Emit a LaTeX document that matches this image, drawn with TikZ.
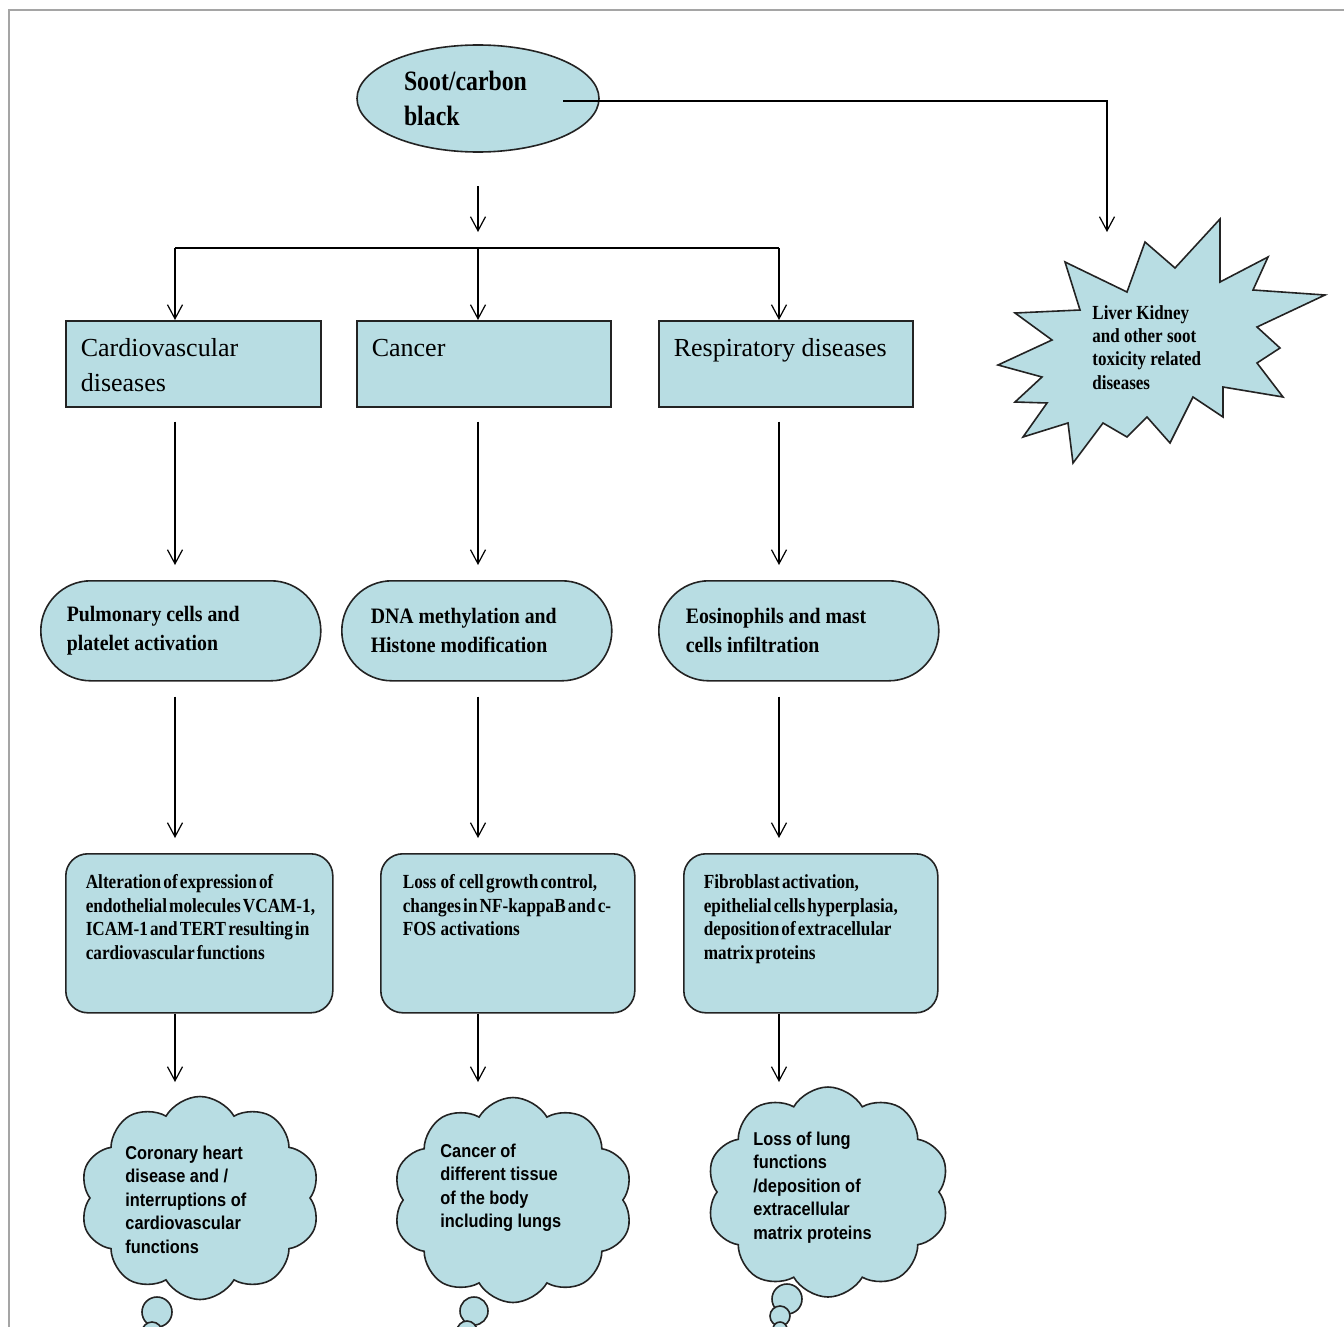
\documentclass[tikz,border=0pt]{standalone}
\usepackage{fontspec}
\setmainfont{Liberation Serif}
\newfontfamily\tnrc[FakeStretch=0.85]{Liberation Serif}
\newfontfamily\tnrb[FakeStretch=0.86,WordSpace=0.5]{Liberation Serif}
\newfontfamily\tnrs[FakeStretch=0.9]{Liberation Serif}
\newfontfamily\arialc[FakeStretch=0.88]{Liberation Sans}
\usetikzlibrary{arrows.meta,shapes.geometric,shapes.symbols,calc}
\definecolor{fillblue}{RGB}{184,221,227}
\definecolor{edgecol}{RGB}{35,35,35}
\definecolor{bordercol}{RGB}{165,165,165}
\newcommand\tbx[4]{\parbox[c][#1][t]{#2}{\raggedright\rule{0pt}{#3}#4}}
\newcommand\sootfont{\tnrc\bfseries\fontsize{14pt}{17.5pt}\selectfont}
\newcommand\rectfont{\fontsize{13pt}{17.5pt}\selectfont}
\newcommand\stadfont{\tnrs\bfseries\fontsize{11pt}{14.5pt}\selectfont}
\newcommand\lowfont{\tnrb\bfseries\fontsize{10pt}{11.75pt}\selectfont}
\newcommand\starfont{\tnrc\bfseries\fontsize{10pt}{11.7pt}\selectfont}
\newcommand\cloudfont{\arialc\bfseries\fontsize{9.3pt}{11.75pt}\selectfont}
\begin{document}
\begin{tikzpicture}[x=0.5pt,y=-0.5pt,
  shapebox/.style={draw=edgecol, fill=fillblue, line width=0.8pt, inner sep=0pt},
  rectbox/.style={shapebox, rectangle, anchor=north west},
  stadbox/.style={shapebox, rectangle, rounded corners=25pt, anchor=north west},
  rndbox/.style={shapebox, rectangle, rounded corners=11pt, anchor=north west},
  ellip/.style={shapebox, ellipse},
  cloudsty/.style={shapebox, cloud, cloud puffs=10, cloud puff arc=120, cloud ignores aspect},
  bubble/.style={shapebox, circle},
  freetext/.style={inner sep=0pt, anchor=base west},
  conn/.style={draw=black, line width=0.6pt},
  arr/.style={conn, -{Straight Barb[length=7pt,width=7.5pt,line width=0.6pt]}},
  borderline/.style={draw=bordercol, line width=1pt}
]
\useasboundingbox (0,0) rectangle (1344,1327);
\draw[borderline] (1344,10) -- (9,10) -- (9,1327);

% column coordinates
\coordinate (c1) at (175,0);
\coordinate (c2) at (478,0);
\coordinate (c3) at (779,0);

% top ellipse
\node[ellip, minimum width=121pt, minimum height=53.5pt] (soot) at (478,98.5)
  {\parbox{74pt}{\sootfont Soot/carbon\\black}};

% star (liver/kidney)
\filldraw[draw=edgecol, fill=fillblue, line width=0.8pt, line join=miter]
  (1220,219) -- (1220,282) -- (1268,257) -- (1253,290) -- (1325,295) --
  (1257,327) -- (1280,348) -- (1257,363) -- (1283,397) -- (1223,387) --
  (1223,417) -- (1193,397) -- (1170,443) -- (1147,417) -- (1127,437) --
  (1103,423) -- (1073,463) -- (1068,423) -- (1023,437) -- (1047,403) --
  (1015,402) -- (1042,377) -- (998,365) -- (1052,340) -- (1015,313) --
  (1080,310) -- (1065,262) -- (1127,292) -- (1145,242) -- (1175,268) -- cycle;
\node[freetext] (startext) at (1092,319)
  {\parbox[t]{70pt}{\starfont Liver  Kidney\\and other  soot\\toxicity related\\diseases}};

% row 1: rectangles
\node[rectbox, minimum width=127.5pt, minimum height=43pt] (cardio) at (65,320)
  {\tbx{43pt}{112.5pt}{18pt}{\rectfont Cardiovascular\\diseases}};
\node[rectbox, minimum width=127pt, minimum height=43pt] (cancer) at (356,320)
  {\tbx{43pt}{112pt}{18pt}{\rectfont Cancer}};
\node[rectbox, minimum width=127pt, minimum height=43pt] (resp) at (658,320)
  {\tbx{43pt}{112pt}{18pt}{\rectfont Respiratory diseases}};

% row 2: stadiums
\node[stadbox, minimum width=140pt, minimum height=50pt] (pulm) at (40,580)
  {\parbox{114pt}{\stadfont \mbox{Pulmonary cells and}\\\mbox{platelet activation}}};
\node[stadbox, minimum width=135pt, minimum height=50pt] (dna) at (341,580)
  {\parbox{106pt}{\stadfont \mbox{DNA methylation and}\\\mbox{Histone modification}}};
\node[stadbox, minimum width=140pt, minimum height=50pt] (eos) at (658,580)
  {\parbox{113pt}{\stadfont \mbox{Eosinophils and mast}\\\mbox{cells infiltration}}};

% row 3: rounded boxes
\node[rndbox, minimum width=133.5pt, minimum height=79.5pt] (alter) at (65,853)
  {\tbx{79.5pt}{113.5pt}{17.5pt}{\lowfont \mbox{Alteration of expression of}\\\mbox{endothelial molecules VCAM-1,}\\\mbox{ICAM-1 and TERT resulting in}\\\mbox{cardiovascular functions}}};
\node[rndbox, minimum width=127pt, minimum height=79.5pt] (loss) at (380,853)
  {\tbx{79.5pt}{105pt}{17.5pt}{\lowfont \mbox{Loss \ of \ cell growth control,}\\\mbox{changes in NF-kappaB and c-}\\\mbox{FOS\ \ activations}}};
\node[rndbox, minimum width=127pt, minimum height=79.5pt] (fibro) at (683,853)
  {\tbx{79.5pt}{107pt}{17.5pt}{\lowfont \mbox{Fibroblast activation,}\\\mbox{epithelial cells hyperplasia,}\\\mbox{deposition of extracellular}\\\mbox{matrix proteins}}};

% row 4: clouds
\node[cloudsty, minimum width=120pt, minimum height=101.5pt] (cl1) at (200,1198) {};
\node[cloudsty, minimum width=120pt, minimum height=102.5pt] (cl2) at (513,1200) {};
\node[cloudsty, minimum width=121.5pt, minimum height=105pt] (cl3) at (828,1192) {};
\node[bubble, minimum size=15pt] (b1a) at (157,1312) {};
\node[bubble, minimum size=10pt] (b1b) at (152,1332) {};
\node[bubble, minimum size=14pt] (b2a) at (474,1311) {};
\node[bubble, minimum size=10pt] (b2b) at (467,1331) {};
\node[bubble, minimum size=15pt] (b3a) at (787,1299) {};
\node[bubble, minimum size=10pt] (b3b) at (780,1316) {};
\node[bubble, minimum size=7pt] (b3c) at (780,1329) {};
\node[freetext] (cl1t) at (125,1159)
  {\parbox[t]{90pt}{\cloudfont Coronary heart\\disease  and /\\interruptions of\\cardiovascular\\functions}};
\node[freetext] (cl2t) at (440,1157)
  {\parbox[t]{90pt}{\cloudfont Cancer of\\different tissue\\of the body\\including lungs}};
\node[freetext] (cl3t) at (753,1145)
  {\parbox[t]{90pt}{\cloudfont Loss of lung\\functions\\/deposition of\\extracellular\\matrix proteins}};

% connectors
\coordinate (sootR) at (563,101);
\coordinate (starIn) at (1107,232);
\draw[arr] (sootR) -| (starIn);
\coordinate (sootDown) at (478,186);
\coordinate (sootDownEnd) at (478,232);
\draw[arr] (sootDown) -- (sootDownEnd);
\coordinate (busL) at (175,248);
\coordinate (busM) at (478,248);
\coordinate (busR) at (779,248);
\draw[conn] (busL) -- (busR);
\draw[arr] (busL) -- (busL |- cardio.north);
\draw[arr] (busM) -- (busM |- cancer.north);
\draw[arr] (busR) -- (busR |- resp.north);

\draw[arr] ($(c1 |- cardio.south)+(0,14)$) -- ($(c1 |- pulm.north)+(0,-15)$);
\draw[arr] ($(c2 |- cancer.south)+(0,14)$) -- ($(c2 |- dna.north)+(0,-15)$);
\draw[arr] ($(c3 |- resp.south)+(0,14)$) -- ($(c3 |- eos.north)+(0,-15)$);

\draw[arr] ($(c1 |- pulm.south)+(0,15)$) -- ($(c1 |- alter.north)+(0,-15)$);
\draw[arr] ($(c2 |- dna.south)+(0,15)$) -- ($(c2 |- loss.north)+(0,-15)$);
\draw[arr] ($(c3 |- eos.south)+(0,15)$) -- ($(c3 |- fibro.north)+(0,-15)$);

\coordinate (e1) at (175,1082);
\coordinate (e2) at (478,1082);
\coordinate (e3) at (779,1082);
\draw[arr] (c1 |- alter.south) -- (e1);
\draw[arr] (c2 |- loss.south) -- (e2);
\draw[arr] (c3 |- fibro.south) -- (e3);
\end{tikzpicture}
\end{document}
